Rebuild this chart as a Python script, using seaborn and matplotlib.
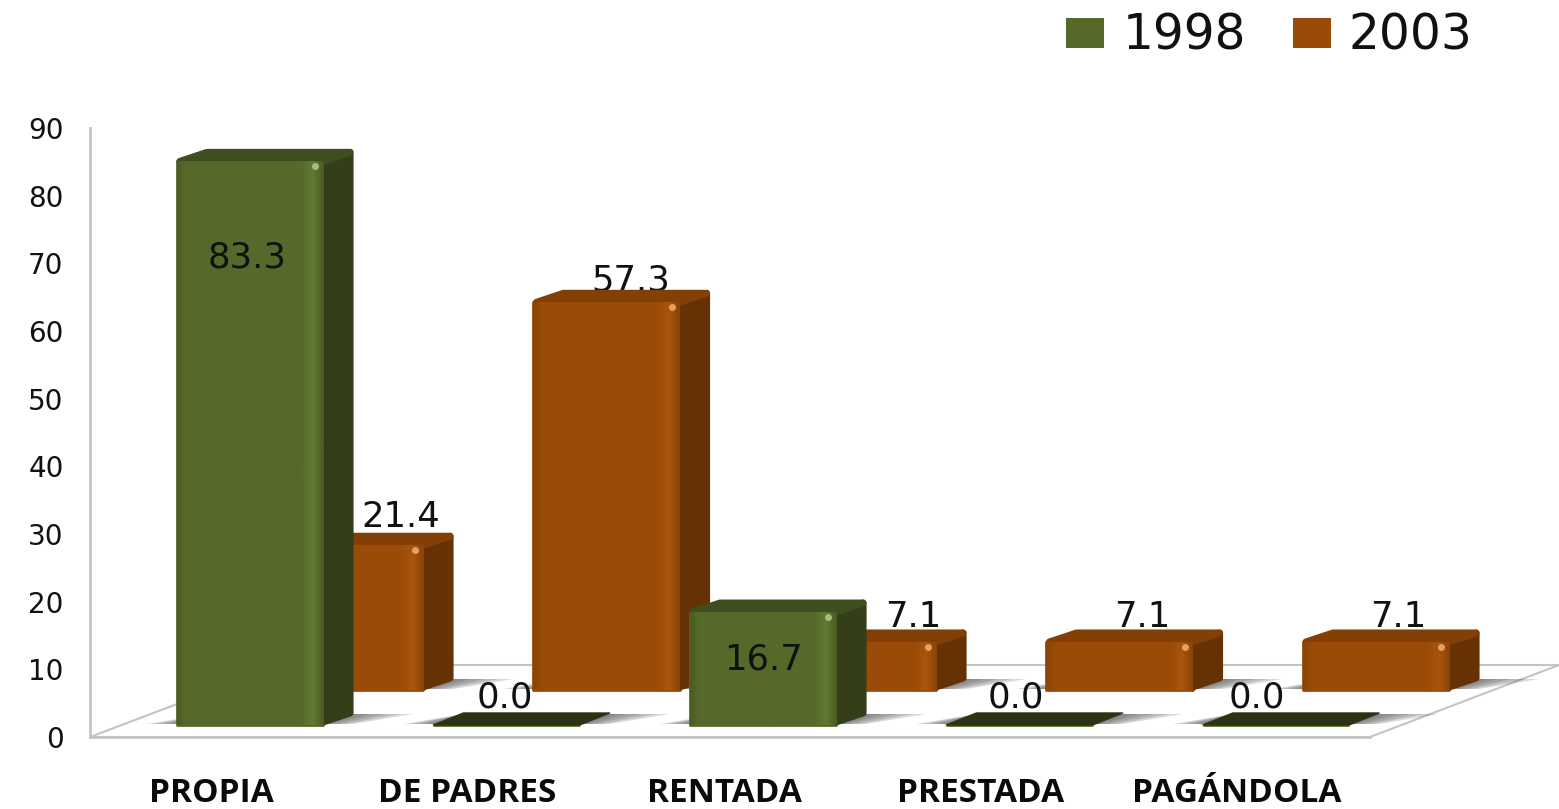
import numpy as np
import seaborn as sns
import matplotlib
matplotlib.use("Agg")
import matplotlib.pyplot as plt
from matplotlib.colors import LinearSegmentedColormap
from matplotlib.patches import Polygon

categories = ["PROPIA", "DE PADRES", "RENTADA", "PRESTADA", "PAGÁNDOLA"]
values_1998 = [83.3, 0.0, 16.7, 0.0, 0.0]
values_2003 = [21.4, 57.3, 7.1, 7.1, 7.1]
y_ticks = [0, 10, 20, 30, 40, 50, 60, 70, 80, 90]

# label nudges in pixels, from the middle of the bar / the back edge of its top
nudge_1998 = [(-3, -108), (-2, 16), (0, -60), (-4, 16), (-19, 16)]
nudge_2003 = [(51, 16), (24, 10), (50, 13), (23, 13), (22, 13)]

green = dict(front="#55692a", light="#5f7a33", dark="#4a5c24", side="#343f1a", top="#3f4e1e", spot="#a9bb7c")
orange = dict(front="#9a4b08", light="#a9560e", dark="#8c4306", side="#663204", top="#843f06", spot="#e8a060")

sns.set_style("white")
W, H = 1559, 809
X_UNIT = 256.5
Y_UNIT = 609 / 90
PX = 1 / X_UNIT
PY = 1 / Y_UNIT
DEPTH_X = 30 * PX
DEPTH_Y = 12 * PY

fig = plt.figure(figsize=(W / 100, H / 100), dpi=100)
ax = fig.add_axes([90 / W, (H - 737) / H, 1280 / W, 609 / H])
xlim = (-160 * PX, 1120 * PX)
ylim = (0, 90)

# floor of the fake 3d box
floor = Polygon([(xlim[0], 0), (xlim[1], 0), (xlim[1] + 189 * PX, 72 * PY), (xlim[0] + 190 * PX, 72 * PY)],
                closed=True, facecolor="white", edgecolor="#c4c4c4", lw=1.5, clip_on=False, zorder=0)
ax.add_patch(floor)


def draw_bars(values, pos, base, colors, label, z):
    before = len(ax.patches)
    sns.barplot(x=pos, y=values, native_scale=True, width=0.57, bottom=base, color=colors["front"],
                saturation=1, label=label, ax=ax, zorder=z, linewidth=2, edgecolor=colors["front"],
                joinstyle="round", clip_on=False)
    cmap = LinearSegmentedColormap.from_list("face", [(0, colors["dark"]), (0.05, colors["front"]),
                                                       (0.85, colors["front"]), (0.93, colors["light"]),
                                                       (1, colors["dark"])])
    bars = [p for p in ax.patches[before:] if p.get_width() > 0]
    for bar in bars:
        l, b = bar.get_x(), bar.get_y()
        w, h = bar.get_width(), bar.get_height()
        r, t = l + w, b + h
        # soft shadow on the floor
        for grow in (30, 23, 16, 9, 3):
            ax.add_patch(Polygon([(l - grow * PX, b + 1 * PY), (r + grow * PX, b + 1 * PY),
                                  (r + DEPTH_X + 2 * grow * PX, b + DEPTH_Y - 1 * PY),
                                  (l + DEPTH_X, b + DEPTH_Y - 1 * PY)],
                                 closed=True, facecolor="#444444", edgecolor="none", alpha=0.2,
                                 zorder=0.5, clip_on=False))
        if h == 0:
            # empty bar: only the flat dark lid is left
            ax.add_patch(Polygon([(l, t), (r, t), (r + DEPTH_X, t + DEPTH_Y), (l + DEPTH_X, t + DEPTH_Y)],
                                 closed=True, facecolor="#2a3312", edgecolor="#2a3312", lw=1,
                                 joinstyle="round", zorder=z + 0.1, clip_on=False))
            continue
        # corners get rounded by a fat round edge, so pull the outer ones in
        ins_x, ins_y = 3 * PX, 3 * PY
        ax.add_patch(Polygon([(r, b + ins_y), (r + DEPTH_X - ins_x, b + DEPTH_Y),
                              (r + DEPTH_X - ins_x, t + DEPTH_Y - ins_y), (r, t)],
                             closed=True, facecolor=colors["side"], edgecolor=colors["side"], lw=5,
                             joinstyle="round", zorder=z, clip_on=False))
        ax.add_patch(Polygon([(l + ins_x, t), (r, t), (r + DEPTH_X - ins_x, t + DEPTH_Y - ins_y),
                              (l + DEPTH_X, t + DEPTH_Y - ins_y)],
                             closed=True, facecolor=colors["top"], edgecolor=colors["top"], lw=5,
                             joinstyle="round", zorder=z + 0.1, clip_on=False))
        img = ax.imshow(np.linspace(0, 1, 120).reshape(1, -1), extent=(l, r, b, t), aspect="auto",
                        cmap=cmap, zorder=z + 0.2)
        img.set_clip_path(bar)
        ax.plot([r - 8 * PX], [t - 5 * PY], marker="o", ms=5, mec="none", color=colors["spot"],
                zorder=z + 0.3, clip_on=False)
    return bars


index = np.arange(len(categories))
bars_2003 = draw_bars(values_2003, index + 100 * PX, 47 * PY, orange, "2003", 2)
bars_1998 = draw_bars(values_1998, index, 12 * PY, green, "1998", 3)

for vals, nudges, bars, z in ((values_2003, nudge_2003, bars_2003, 1.5), (values_1998, nudge_1998, bars_1998, 5)):
    for v, (dx, dy), bar in zip(vals, nudges, bars):
        ax.annotate(f"{v:.1f}", (bar.get_x() + bar.get_width() / 2, bar.get_y() + bar.get_height() + DEPTH_Y),
                    xytext=(dx * 0.72, dy * 0.72), textcoords="offset points", ha="center", va="center",
                    fontsize=25.5, color="#111111", zorder=z, annotation_clip=False)

ax.set_xlim(xlim)
ax.set_ylim(ylim)
ax.set_yticks(y_ticks)
ax.set_xticks(index - 39 * PX)
ax.set_xticklabels(categories, fontfamily="Open Sans", fontweight="bold", fontsize=24, color="#0a0a0a")
ax.tick_params(axis="y", length=0, pad=19, labelsize=20, labelcolor="#111111")
ax.tick_params(axis="x", length=0, pad=29)
ax.set_xlabel("")
ax.set_ylabel("")
sns.despine(ax=ax, top=True, right=True)
for side in ("left", "bottom"):
    ax.spines[side].set_color("#c4c4c4")
    ax.spines[side].set_linewidth(2)
    ax.spines[side].set_zorder(1)
ax.patch.set_alpha(0)

# legend, 1998 first
handles, labels = ax.get_legend_handles_labels()
order = [labels.index("1998"), labels.index("2003")]
if ax.get_legend():
    ax.get_legend().remove()
leg = fig.legend([handles[i] for i in order], [labels[i] for i in order], ncol=2, loc="upper left",
                 bbox_to_anchor=(1066 / W, 1 - 12 / H), frameon=False, fontsize=35, borderpad=0, borderaxespad=0,
                 handlelength=0.79, handleheight=0.58, handletextpad=0.37, columnspacing=0.96,
                 labelcolor="#111111")
for h in leg.legend_handles:
    h.set_linewidth(0)

fig.savefig("out.png", dpi=100)
